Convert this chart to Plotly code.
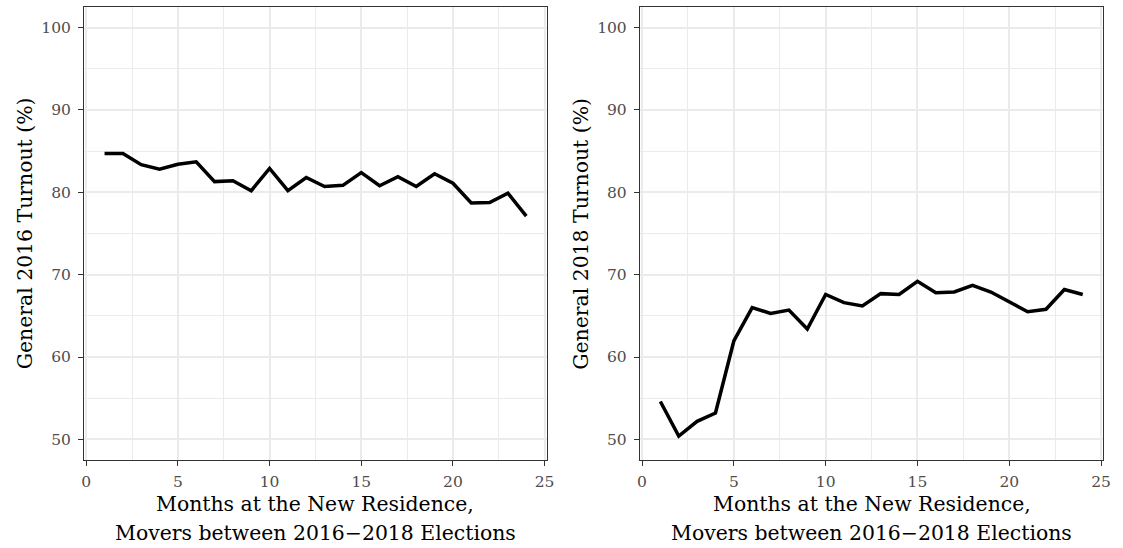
import plotly.graph_objects as go

months = list(range(1, 25))
turnout_2016 = [84.7, 84.7, 83.35, 82.8, 83.4, 83.7, 81.3, 81.4, 80.2, 82.9, 80.2, 81.8,
                80.7, 80.85, 82.4, 80.8, 81.9, 80.7, 82.25, 81.1, 78.7, 78.75, 79.9, 77.1]
turnout_2018 = [54.6, 50.4, 52.2, 53.2, 61.95, 66.0, 65.3, 65.7, 63.4, 67.6, 66.6, 66.2,
                67.7, 67.6, 69.2, 67.8, 67.9, 68.7, 67.9, 66.7, 65.5, 65.8, 68.2, 67.6]
x_ticks = [0, 5, 10, 15, 20, 25]
y_ticks = [50, 60, 70, 80, 90, 100]
x_title_lines = ["Months at the New Residence,", "Movers between 2016\u22122018 Elections"]
y_titles = ["General 2016 Turnout (%)", "General 2018 Turnout (%)"]

FONT = "DejaVu Serif"
TITLE_SIZE = 20.4
TICK_SIZE = 15.5
W, H = 1123, 548

fig = go.Figure()
fig.add_trace(go.Scatter(x=months, y=turnout_2016, mode="lines",
                         line=dict(color="black", width=3.5), xaxis="x", yaxis="y",
                         showlegend=False))
fig.add_trace(go.Scatter(x=months, y=turnout_2018, mode="lines",
                         line=dict(color="black", width=3.5), xaxis="x2", yaxis="y2",
                         showlegend=False))

top_px, bot_px = 7, 460
ydom = [(H - bot_px) / H, (H - top_px) / H]
panels_px = [(82, 549), (643.3, 1111)]
xdoms = [[a / W, b / W] for a, b in panels_px]

def xaxis(dom, anchor):
    return dict(domain=dom, anchor=anchor, range=[-0.11, 25.11],
                tickvals=x_ticks, ticktext=[str(v) for v in x_ticks],
                showgrid=True, gridcolor="#EBEBEB", gridwidth=2,
                minor=dict(dtick=2.5, tick0=0, showgrid=True, gridcolor="#EBEBEB", gridwidth=1, ticks=""),
                showline=True, linecolor="#333333", linewidth=1.3, mirror=True,
                ticks="outside", ticklen=5, tickwidth=1.3, tickcolor="#333333",
                ticklabelstandoff=2,
                tickfont=dict(family=FONT, size=TICK_SIZE, color="#4D4D4D"),
                zeroline=False)

def yaxis(dom, anchor):
    return dict(domain=dom, anchor=anchor, range=[47.5, 102.5],
                tickvals=y_ticks, ticktext=[str(v) for v in y_ticks],
                showgrid=True, gridcolor="#EBEBEB", gridwidth=2,
                minor=dict(dtick=5, tick0=50, showgrid=True, gridcolor="#EBEBEB", gridwidth=1, ticks=""),
                showline=True, linecolor="#333333", linewidth=1.3, mirror=True,
                ticks="outside", ticklen=5, tickwidth=1.3, tickcolor="#333333",
                ticklabelstandoff=4,
                tickfont=dict(family=FONT, size=TICK_SIZE, color="#4D4D4D"),
                zeroline=False)

annotations = []
ytitle_x_px = [22, 583]
for i, (a, b) in enumerate(panels_px):
    cx = (a + b) / 2 / W
    annotations.append(dict(text=x_title_lines[0], x=cx, y=1 - 504 / H, xref="paper", yref="paper",
                            xanchor="center", yanchor="middle", showarrow=False,
                            font=dict(family=FONT, size=TITLE_SIZE, color="black")))
    annotations.append(dict(text=x_title_lines[1], x=cx, y=1 - 533 / H, xref="paper", yref="paper",
                            xanchor="center", yanchor="middle", showarrow=False,
                            font=dict(family=FONT, size=TITLE_SIZE, color="black")))
    annotations.append(dict(text=y_titles[i], x=ytitle_x_px[i] / W, y=1 - (top_px + bot_px) / 2 / H,
                            xref="paper", yref="paper", xanchor="center", yanchor="middle",
                            textangle=-90, showarrow=False,
                            font=dict(family=FONT, size=TITLE_SIZE, color="black")))

fig.update_layout(
    width=W, height=H,
    margin=dict(l=0, r=0, t=0, b=0),
    paper_bgcolor="white", plot_bgcolor="white",
    xaxis=xaxis(xdoms[0], "y"),
    yaxis=yaxis(ydom, "x"),
    xaxis2=xaxis(xdoms[1], "y2"),
    yaxis2=yaxis(ydom, "x2"),
    annotations=annotations,
)

fig.write_html("out.html")
